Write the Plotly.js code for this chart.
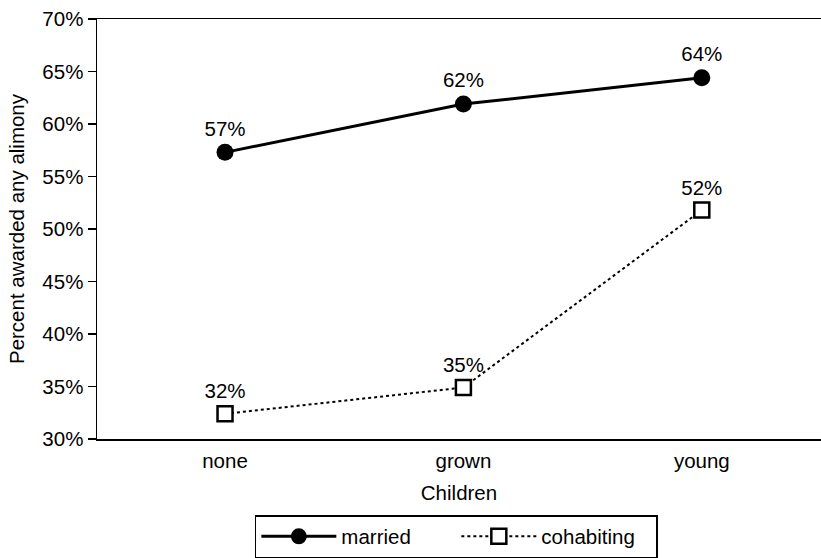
<!DOCTYPE html>
<html>
<head>
<meta charset="utf-8">
<script src="https://cdn.plot.ly/plotly-3.0.1.min.js"></script>
<style>html,body{margin:0;padding:0;background:#fff;}#chart{width:821px;height:558px;}</style>
</head>
<body>
<div id="chart"></div>
<script>
var categories = ["none", "grown", "young"];
var marriedValues = [57.3, 61.9, 64.4];
var marriedLabels = ["57%", "62%", "64%"];
var cohabitingValues = [32.4, 34.9, 51.8];
var cohabitingLabels = ["32%", "35%", "52%"];
var yTickVals = [30, 35, 40, 45, 50, 55, 60, 65, 70];
var yTickText = ["30%", "35%", "40%", "45%", "50%", "55%", "60%", "65%", "70%"];

var font = {family: "Liberation Sans, Arial, sans-serif", size: 20.5, color: "#000"};

var traces = [
  {
    x: categories, y: marriedValues, name: "married", type: "scatter",
    mode: "lines+markers+text", text: marriedLabels, textposition: "top center",
    textfont: font,
    line: {color: "#000", width: 3},
    marker: {symbol: "circle", size: 17, color: "#000"}
  },
  {
    x: categories, y: cohabitingValues, name: "cohabiting", type: "scatter",
    mode: "lines+markers+text", text: cohabitingLabels, textposition: "top center",
    textfont: font,
    line: {color: "#000", width: 2, dash: "dot"},
    marker: {symbol: "square", size: 15, color: "#fff", line: {color: "#000", width: 2.5}}
  }
];

var layout = {
  width: 821, height: 558,
  margin: {l: 97, r: 0, t: 19, b: 118},
  paper_bgcolor: "#fff", plot_bgcolor: "#fff",
  font: font,
  showlegend: true,
  xaxis: {
    type: "category", range: [-0.537, 2.5],
    showline: true, linecolor: "#000", linewidth: 1.5, mirror: true,
    showgrid: false, zeroline: false, ticks: "",
    ticklabelstandoff: 3,
    tickfont: font,
    title: {text: "Children", font: font, standoff: 14}
  },
  yaxis: {
    range: [30, 70], tickvals: yTickVals, ticktext: yTickText,
    showline: true, linecolor: "#000", linewidth: 1.5,
    showgrid: false, zeroline: false,
    ticks: "outside", ticklen: 8, tickwidth: 1.5, tickcolor: "#000",
    tickfont: font,
    title: {text: "Percent awarded any alimony", font: font, standoff: 12}
  },
  legend: {
    orientation: "h", x: 0.218, xanchor: "left", y: -0.18, yanchor: "top",
    bordercolor: "#000", borderwidth: 1.5, bgcolor: "#fff",
    itemwidth: 75, entrywidth: 110, entrywidthmode: "pixels",
    font: font, tracegroupgap: 0
  }
};

Plotly.newPlot("chart", traces, layout, {staticPlot: true, displayModeBar: false});
</script>
</body>
</html>
